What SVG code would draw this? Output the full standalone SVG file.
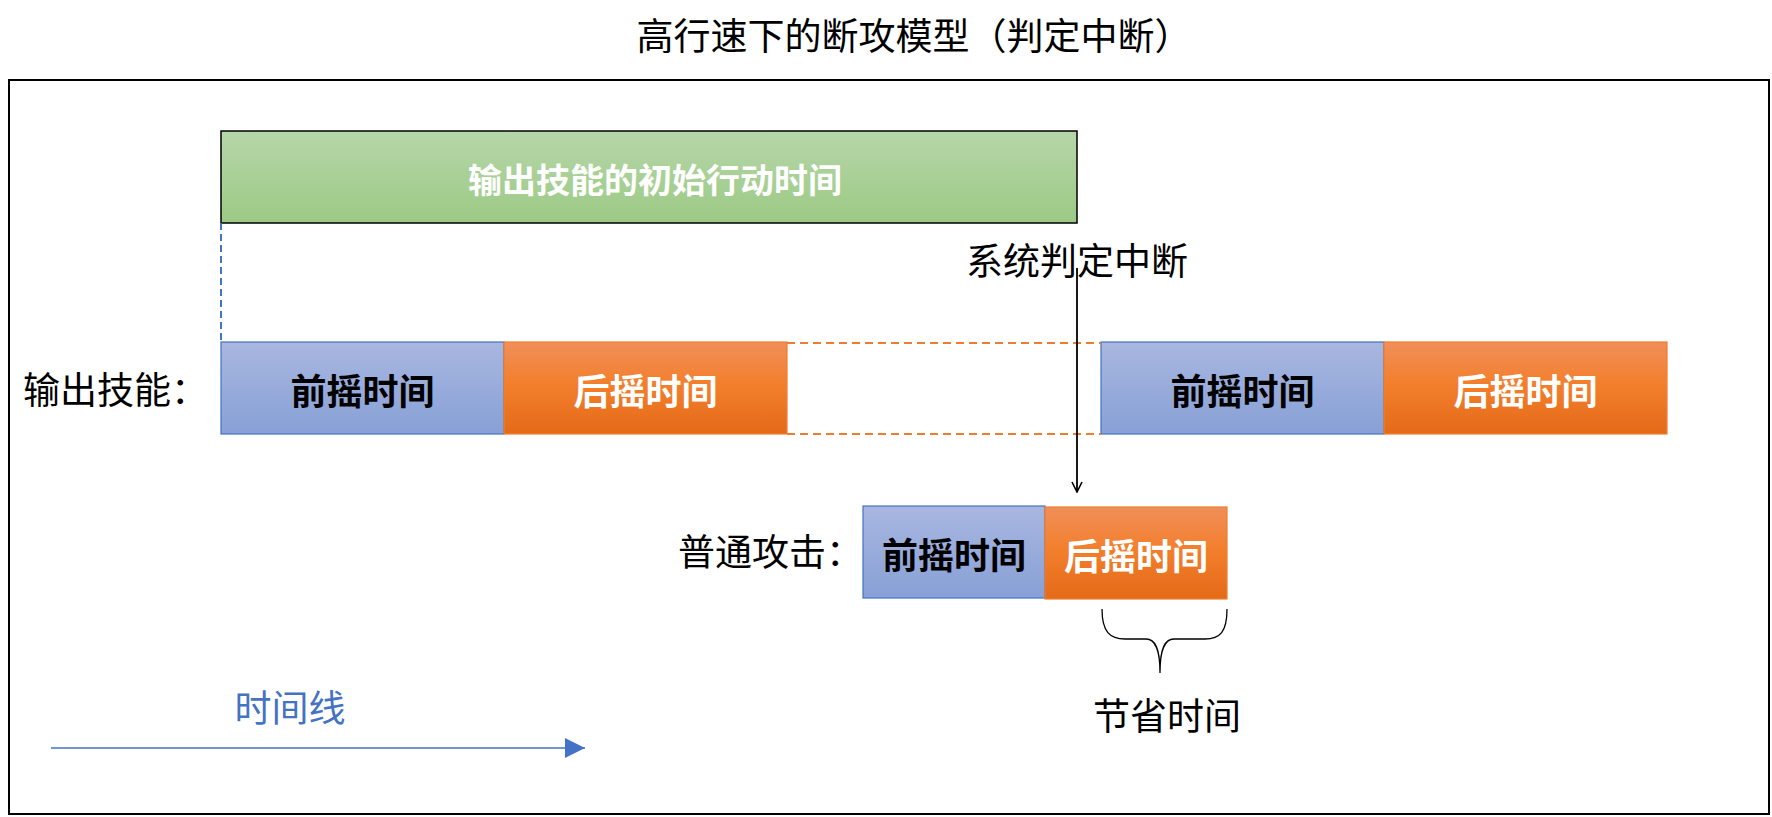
<svg xmlns="http://www.w3.org/2000/svg" width="1772" height="817" viewBox="0 0 1772 817">
<style>
text{font-family:"Noto Sans CJK SC","Noto Sans",sans-serif}
.lbl{font-size:37px}
.bt{font-size:36px;font-weight:bold;text-anchor:middle;dominant-baseline:central}
.blue{fill:url(#gb);stroke:#4472C4;stroke-width:1.2}
.orng{fill:url(#go);stroke:#ED7D31;stroke-width:1.2}
</style>
<defs>
<linearGradient id="gg" x1="0" y1="0" x2="0" y2="1"><stop offset="0" stop-color="#B6D6A9"/><stop offset="1" stop-color="#9CCA85"/></linearGradient>
<linearGradient id="gb" x1="0" y1="0" x2="0" y2="1"><stop offset="0" stop-color="#A9B7E0"/><stop offset="1" stop-color="#87A0D6"/></linearGradient>
<linearGradient id="go" x1="0" y1="0" x2="0" y2="1"><stop offset="0" stop-color="#F08F5A"/><stop offset="0.45" stop-color="#F37F2D"/><stop offset="1" stop-color="#E46A17"/></linearGradient>
<marker id="open" viewBox="0 0 12 12" refX="11" refY="6" markerWidth="12" markerHeight="12" markerUnits="userSpaceOnUse" orient="auto"><path d="M1,1 L11,6 L1,11" fill="none" stroke="#000" stroke-width="1.6"/></marker>
<marker id="tri" viewBox="0 0 20 20" refX="20" refY="10" markerWidth="20" markerHeight="20" markerUnits="userSpaceOnUse" orient="auto"><path d="M0,0 L20,10 L0,20 Z" fill="#4472C4"/></marker>
</defs>
<rect width="1772" height="817" fill="#fff"/>
<text x="914" y="50" class="lbl" text-anchor="middle" fill="#000">高行速下的断攻模型（判定中断）</text>
<rect id="frame" x="9" y="80" width="1760" height="734" fill="none" stroke="#000" stroke-width="2"/>

<g id="initial">
<rect x="221" y="131" width="856" height="92" fill="url(#gg)" stroke="#000" stroke-width="1.5"/>
<text x="655" y="178" class="bt" style="font-size:34px" fill="#fff">输出技能的初始行动时间</text>
</g>

<g id="row1label"><text x="23" y="404" class="lbl" fill="#000">输出技能：</text></g>
<g id="skill-pre1"><rect x="221" y="342" width="283" height="92" class="blue"/><text x="362.5" y="389" class="bt" fill="#000">前摇时间</text></g>
<g id="skill-post1"><rect x="504" y="342" width="283" height="92" class="orng"/><text x="645.5" y="389" class="bt" fill="#fff">后摇时间</text></g>
<g id="skill-pre2"><rect x="1101" y="342" width="283" height="92" class="blue"/><text x="1242.5" y="389" class="bt" fill="#000">前摇时间</text></g>
<g id="skill-post2"><rect x="1384" y="342" width="283" height="92" class="orng"/><text x="1525.5" y="389" class="bt" fill="#fff">后摇时间</text></g>

<g id="interrupt"><text x="966" y="275" class="lbl" fill="#000">系统判定中断</text></g>

<g id="row2label"><text x="678" y="566" class="lbl" fill="#000">普通攻击：</text></g>
<g id="atk-pre"><rect x="863" y="506" width="182" height="92" class="blue"/><text x="954" y="553" class="bt" fill="#000">前摇时间</text></g>
<g id="atk-post"><rect x="1045" y="507" width="182" height="92" class="orng"/><text x="1136" y="554" class="bt" fill="#fff">后摇时间</text></g>

<g id="saved"><text x="1167" y="730" class="lbl" text-anchor="middle" fill="#000">节省时间</text></g>
<g id="timeline-label"><text x="290" y="722" class="lbl" text-anchor="middle" fill="#4472C4">时间线</text></g>

<g id="connectors">
<line x1="221" y1="223" x2="221" y2="342" stroke="#4472C4" stroke-width="2" stroke-dasharray="7,4"/>
<line x1="787" y1="343" x2="1101" y2="343" stroke="#ED7D31" stroke-width="2.2" stroke-dasharray="8,5"/>
<line x1="787" y1="434" x2="1101" y2="434" stroke="#ED7D31" stroke-width="2.2" stroke-dasharray="8,5"/>
<line x1="1077" y1="268" x2="1077" y2="492" stroke="#000" stroke-width="1.8" marker-end="url(#open)"/>
<path d="M1102,609 C1102,632 1110,639 1125,639 L1146,639 C1155,639 1160,648 1160,673 C1160,648 1165,639 1174,639 L1205,639 C1220,639 1227,632 1227,609" fill="none" stroke="#000" stroke-width="1.3"/>
<line x1="51" y1="748" x2="585" y2="748" stroke="#4472C4" stroke-width="1.6" marker-end="url(#tri)"/>
</g>
</svg>
